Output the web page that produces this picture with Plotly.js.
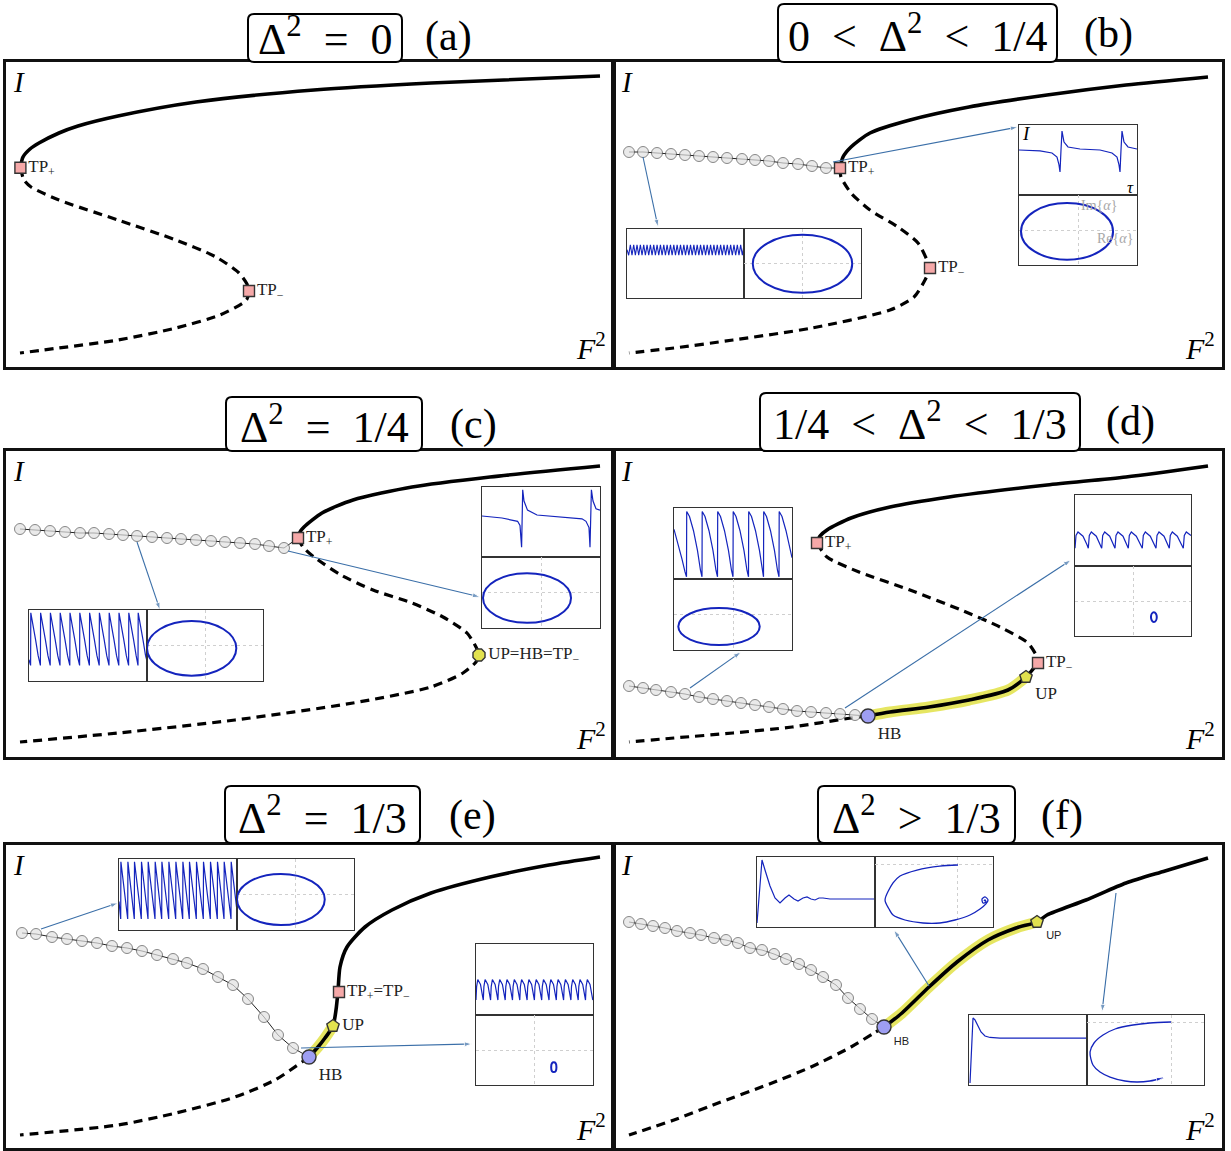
<!DOCTYPE html>
<html><head><meta charset="utf-8">
<script src="https://cdn.plot.ly/plotly-3.0.1.min.js"></script>
<style>body{margin:0;background:#fff}#chart{width:1231px;height:1151px}</style>
</head><body><div id="chart"></div>
<script>
// ================= DATA (panel units: F^2 across, I up; insets in their own units) =================
const panelTitles = ['Δ<sup>2</sup>\u2002=\u20020', '0\u2002&lt;\u2002Δ<sup>2</sup>\u2002&lt;\u20021/4', 'Δ<sup>2</sup>\u2002=\u20021/4',
  '1/4\u2002&lt;\u2002Δ<sup>2</sup>\u2002&lt;\u20021/3', 'Δ<sup>2</sup>\u2002=\u20021/3', 'Δ<sup>2</sup>\u2002&gt;\u20021/3'];
const panelLetters = ['(a)', '(b)', '(c)', '(d)', '(e)', '(f)'];

// (a)
const aUpperX = [1.44,1.7,2.4,3.3,5.3,7.2,11.2,19.0,30.8,42.5,59.4];
const aUpperY = [19.93,21.0,21.8,22.4,23.4,24.1,25.1,26.5,27.7,28.4,29.1];
const aDashX = [1.44,1.8,2.5,5.3,11.2,17.0,21.0,23.3,24.1,24.3,24.1,23.7,21.4,17.0,11.2,5.3,1.4];
const aDashY = [19.93,18.7,18.0,16.7,14.7,12.7,11.0,9.4,8.3,7.6,6.8,6.4,5.2,3.9,2.7,1.9,1.4];
const aTPX = [1.44,24.3], aTPY = [19.93,7.6];

// (b)
const bUpperX = [22.6,22.9,23.7,25.6,29.6,35.5,43.3,51.2,59.4];
const bUpperY = [19.9,21.0,22.0,23.4,24.7,26.0,27.2,28.2,29.0];
const bDashX = [22.6,22.7,23.7,25.6,28.4,30.4,31.3,31.6,31.1,30.0,27.6,19.8,11.9,6.0,1.5];
const bDashY = [19.9,19.0,17.4,15.7,14.0,12.4,10.7,9.9,8.7,7.0,5.7,3.9,2.7,1.9,1.4];
const bCircX = [1.5,2.9,4.3,5.7,7.1,8.5,9.9,11.3,12.8,14.1,15.5,16.9,18.4,19.8,21.2];
const bCircY = [21.5,21.5,21.4,21.3,21.2,21.1,21.0,20.9,20.8,20.7,20.6,20.4,20.3,20.1,19.9];
const bTPX = [22.6,31.6], bTPY = [19.9,9.9];
const bArrowTailX = [2.9,21.9], bArrowTailY = [21.0,20.5], bArrowHeadX = [4.4,40.4], bArrowHeadY = [14.0,24.0];
const bLeftTimeV = [0.70,0.62,0.77,0.62,0.77,0.62,0.77,0.62,0.77,0.62,0.77,0.62,0.77,0.62,0.77,0.62,0.77,0.62,0.77,0.62,0.77,
  0.62,0.77,0.62,0.77,0.62,0.77,0.62,0.77,0.62,0.77,0.62,0.77,0.62,0.77,0.62,0.77,0.62,0.77,0.62,0.77,
  0.62,0.77,0.62,0.77,0.62,0.77,0.62,0.77,0.62,0.77,0.62,0.77,0.62,0.77,0.62,0.77,0.62,0.77,0.62,0.77,
  0.62,0.77,0.62,0.77,0.62,0.77,0.62,0.77,0.62,0.77];
const bRightTimeT = [0,21,33,38,40,41,42,43,45,49,61,81,93,98,100,101,102,103,105,109,118];
const bRightTimeV = [0.643,0.629,0.60,0.543,0.43,0.33,0.643,0.914,0.757,0.686,0.657,0.643,0.60,0.543,0.43,0.33,0.643,0.914,0.757,0.686,0.657];

// (c)
const cUpperX = [29.2,29.4,29.8,31.6,34.7,40.6,48.4,59.4];
const cUpperY = [21.9,22.5,23.0,24.4,25.7,27.0,28.0,29.1];
const cDashX = [29.2,29.7,30.8,33.5,36.7,40.6,43.7,46.1,47.0,47.3,47.0,45.7,42.5,34.7,22.9,11.2,1.4];
const cDashY = [21.9,21.0,20.0,18.2,16.7,15.4,14.0,12.4,11.0,10.2,9.5,8.4,7.0,5.4,3.7,2.4,1.5];
const cCircX = [1.4,2.9,4.4,5.9,7.4,8.8,10.3,11.7,13.1,14.6,16.1,17.5,19.0,20.5,21.9,23.4,24.9,26.3,27.8];
const cCircY = [22.8,22.7,22.6,22.5,22.4,22.4,22.3,22.2,22.1,22.0,21.9,21.8,21.7,21.6,21.5,21.4,21.3,21.1,20.9];
const cTPX = [29.2], cTPY = [21.9];
const cUPX = [47.3], cUPY = [10.2];
const cArrowTailX = [13.1,28.2], cArrowTailY = [21.5,20.6], cArrowHeadX = [15.4,47.4], cArrowHeadY = [14.7,16.0];
const cLeftTimeT = [0,1.6,1.8,4.1,6.6,9.1,11.4,11.6,13.9,16.4,18.9,21.2,21.4,23.7,26.2,28.7,31,31.2,33.5,36,38.5,
  40.8,41,43.3,45.8,48.3,50.6,50.8,53.1,55.6,58.1,60.4,60.6,62.9,65.4,67.9,70.2,70.4,72.7,75.2,77.7,
  80,80.2,82.5,85,87.5,89.8,90,92.3,94.8,97.3,99.6,99.8,102.1,104.6,107.1,109,109.2,111.5,114,116.5,118];
const cLeftTimeV = [0.3,0.22,0.96,0.8,0.58,0.36,0.22,0.96,0.8,0.58,0.36,0.22,0.96,0.8,0.58,0.36,0.22,0.96,0.8,0.58,0.36,
  0.22,0.96,0.8,0.58,0.36,0.22,0.96,0.8,0.58,0.36,0.22,0.96,0.8,0.58,0.36,0.22,0.96,0.8,0.58,0.36,
  0.22,0.96,0.8,0.58,0.36,0.22,0.96,0.8,0.58,0.36,0.22,0.96,0.8,0.58,0.36,0.22,0.96,0.8,0.58,0.36,0.28];
const cRightTimeT = [0,20,35.6,38,39.6,40.2,40.7,42,45.5,55,70,86.6,100,104,107,108,108.8,109.4,111,114,118];
const cRightTimeV = [0.586,0.557,0.51,0.45,0.14,0.5,0.96,0.8,0.67,0.6,0.58,0.567,0.545,0.51,0.42,0.14,0.5,0.96,0.8,0.69,0.67];

// (d)
const dUpperX = [20.3,20.6,21.3,23.7,27.6,33.5,43.3,51.2,59.4];
const dUpperY = [21.4,22.1,22.7,23.9,25.0,26.0,27.2,28.0,29.1];
const dDashX = [20.3,21.3,24.5,29.6,34.7,38.6,41.4,42.3,42.4];
const dDashY = [21.4,20.0,18.5,16.7,14.7,13.0,11.4,10.0,9.4];
const dSolidX = [42.4,41.2,39.4,35.5,31.5,27.6,25.4];
const dSolidY = [9.4,8.0,6.7,5.7,5.0,4.5,4.1];
const dHighX = [41.2,39.4,35.5,31.5,27.6,25.4];
const dHighY = [8.0,6.7,5.7,5.0,4.5,4.1];
const dLowX = [25.4,23.7,17.8,11.9,6.0,1.5];
const dLowY = [4.1,3.9,3.0,2.4,1.9,1.5];
const dCircX = [1.5,2.9,4.2,5.7,7.1,8.5,9.9,11.3,12.7,14.1,15.5,16.9,18.3,19.7,21.2,22.6,24.1];
const dCircY = [7.1,6.9,6.7,6.5,6.3,6.0,5.8,5.6,5.4,5.2,5.0,4.8,4.6,4.5,4.4,4.3,4.2];
const dTPX = [20.3,42.4], dTPY = [21.4,9.4];
const dUPX = [41.2], dUPY = [8.0], dHBX = [25.4], dHBY = [4.1];
const dArrowTailX = [7.6,23.1], dArrowTailY = [6.9,4.9], dArrowHeadX = [12.7,45.7], dArrowHeadY = [10.5,19.7];
const dLeftTimeT = [0,4,8,11,12.5,12.7,15.5,19.5,23.5,26.5,28,28.2,31,35,39,42,43.5,43.7,46.5,50.5,54.5,57.5,
  59,59.2,62,66,70,73,74.5,74.7,77.5,81.5,85.5,88.5,89.5,89.7,92.5,96.5,100.5,103.5,105,105.2,108,112,116,118];
const dLeftTimeV = [0.7,0.5,0.28,0.1,0.03,0.95,0.88,0.68,0.4,0.12,0.03,0.95,0.88,0.68,0.4,0.12,0.03,0.95,0.88,0.68,0.4,0.12,
  0.03,0.95,0.88,0.68,0.4,0.12,0.03,0.95,0.88,0.68,0.4,0.12,0.03,0.95,0.88,0.68,0.4,0.12,0.03,0.95,0.88,0.68,0.4,0.3];
const dRightTimeT = [0,1,3,8,12,13.3,14.3,16.3,21.3,25.3,26.7,27.7,29.7,34.7,38.7,40,41,43,48,52,53.3,54.3,56.3,61.3,65.3,
  67.3,68.3,70.3,75.3,79.3,81,82,84,89,93,94.3,95.3,97.3,102.3,106.3,108.3,109.3,111.3,116];
const dRightTimeV = [0.25,0.43,0.48,0.42,0.3,0.25,0.43,0.48,0.42,0.3,0.25,0.43,0.48,0.42,0.3,0.25,0.43,0.48,0.42,0.3,
  0.25,0.43,0.48,0.42,0.3,0.25,0.43,0.48,0.42,0.3,0.25,0.43,0.48,0.42,0.3,0.25,0.43,0.48,0.42,0.3,0.25,0.43,0.48,0.43];

// (e)
const eSolidX = [30.3,31.2,31.9,32.7,33.0,33.2,33.4,34.1,35.9,38.6,42.5,48.4,54.3,59.4];
const eSolidY = [9.1,10.1,11.0,12.2,13.8,15.7,18.1,20.1,22.1,23.8,25.5,27.1,28.3,29.1];
const eHighX = [30.3,31.2,31.9,32.7], eHighY = [9.1,10.1,11.0,12.2];
const eDashX = [30.3,29.6,26.9,22.9,17.0,11.2,1.4], eDashY = [9.1,8.6,6.8,5.1,3.5,2.3,1.3];
const eCircX = [1.6,3.0,4.6,6.1,7.6,9.1,10.6,12.1,13.6,15.1,16.7,18.1,19.7,21.2,22.7,24.2,25.8,27.2,28.7];
const eCircY = [21.5,21.4,21.1,20.9,20.7,20.5,20.2,20.0,19.7,19.3,18.9,18.5,17.9,17.1,16.3,14.9,13.1,11.3,10.0];
const eTPX = [33.3], eTPY = [15.6], eUPX = [32.7], eUPY = [12.2], eHBX = [30.3], eHBY = [9.1];
const eArrowTailX = [3.5,29.5], eArrowTailY = [21.9,10.0], eArrowHeadX = [11.2,46.6], eArrowHeadY = [24.5,10.4];
const eLeftTimeT = [0,1.7,1.9,8.7,8.9,15.3,15.5,22.3,22.5,29,29.2,36,36.2,42.7,42.9,49.7,49.9,56.7,56.9,63.7,63.9,
  70.3,70.5,77.3,77.5,84.3,84.5,91.3,91.5,98.3,98.5,105,105.2,112,112.2,118];
const eLeftTimeV = [0.4,0.155,0.96,0.155,0.96,0.155,0.96,0.155,0.96,0.155,0.96,0.155,0.96,0.155,0.96,0.155,0.96,0.155,0.96,
  0.155,0.96,0.155,0.96,0.155,0.96,0.155,0.96,0.155,0.96,0.155,0.96,0.155,0.96,0.155,0.96,0.27];
const eRightTimeT = [0,0.6,1.8,4.5,6.5,7.3,7.9,9.1,11.8,13.8,14.6,15.2,16.4,19.1,21.1,21.9,22.5,23.7,26.4,28.4,
  29.2,29.8,31,33.7,35.7,36.5,37.1,38.3,41,43,43.8,44.4,45.6,48.3,50.3,51.1,51.7,52.9,55.6,57.6,
  58.4,59,60.2,62.9,64.9,65.7,66.3,67.5,70.2,72.2,73,73.6,74.8,77.5,79.5,80.3,80.9,82.1,84.8,86.8,
  87.6,88.2,89.4,92.1,94.1,94.9,95.5,96.7,99.4,101.4,102.2,102.8,104,106.7,108.7,109.5,110.1,111.3,114,116,116.8];
const eRightTimeV = [0.21,0.4,0.5,0.43,0.27,0.21,0.4,0.5,0.43,0.27,0.21,0.4,0.5,0.43,0.27,0.21,0.4,0.5,0.43,0.27,
  0.21,0.4,0.5,0.43,0.27,0.21,0.4,0.5,0.43,0.27,0.21,0.4,0.5,0.43,0.27,0.21,0.4,0.5,0.43,0.27,
  0.21,0.4,0.5,0.43,0.27,0.21,0.4,0.5,0.43,0.27,0.21,0.4,0.5,0.43,0.27,0.21,0.4,0.5,0.43,0.27,
  0.21,0.4,0.5,0.43,0.27,0.21,0.4,0.5,0.43,0.27,0.21,0.4,0.5,0.43,0.27,0.21,0.4,0.5,0.43,0.27,0.21];

// (f)
const fSolidX = [27.0,28.8,31.5,34.3,37.4,40.2,42.3,43.3,47.2,51.2,55.1,59.4];
const fSolidY = [12.1,13.5,16.1,18.6,20.8,22.0,22.6,23.3,24.8,26.5,27.7,29.0];
const fHighX = [27.0,28.8,31.5,34.3,37.4,40.2,42.3], fHighY = [12.1,13.5,16.1,18.6,20.8,22.0,22.6];
const fDashX = [27.0,26.0,23.7,19.7,15.8,9.9,6.0,1.5], fDashY = [12.1,11.5,10.1,8.1,6.5,4.3,2.8,1.3];
const fCircX = [1.5,2.7,3.9,5.1,6.3,7.6,8.7,10.0,11.2,12.4,13.6,14.8,16.0,17.2,18.5,19.7,20.9,22.2,23.4,24.6,25.8];
const fCircY = [22.6,22.4,22.2,22.0,21.7,21.5,21.3,21.0,20.8,20.5,20.0,19.8,19.4,18.9,18.4,17.8,17.1,16.3,15.0,13.9,12.9];
const fUPX = [42.3], fUPY = [22.6], fHBX = [27.0], fHBY = [12.1];
const fArrowTailX = [31.5,50.2], fArrowTailY = [16.2,25.5], fArrowHeadX = [28.0,48.8], fArrowHeadY = [21.8,13.6];
const fUpperTimeT = [0,2,5,8,13,18,23,28,32,37,41,46,50,54,58,62,66,73,118];
const fUpperTimeV = [0.057,0.386,0.957,0.814,0.586,0.414,0.343,0.414,0.457,0.4,0.371,0.414,0.429,0.4,0.386,0.414,0.414,0.4,0.4];
const fUpperPhaseRe = [0.703,0.55,0.356,0.212,0.153,0.085,0.119,0.153,0.254,0.407,0.55,0.678,0.805,0.89,0.94,0.958,0.932,0.907,0.915,0.94,0.932,0.924];
const fUpperPhaseIm = [0.886,0.871,0.814,0.729,0.629,0.386,0.257,0.171,0.1,0.057,0.057,0.1,0.171,0.257,0.33,0.386,0.429,0.4,0.343,0.357,0.386,0.37];
const fLowerTimeT = [1,3,4,6,9,12,16,21,31,118];
const fLowerTimeV = [0.029,0.64,0.957,0.93,0.843,0.757,0.7,0.679,0.671,0.671];
const fLowerPhaseRe = [0.718,0.538,0.393,0.24,0.137,0.06,0.026,0.051,0.111,0.197,0.325,0.427,0.538,0.65];
const fLowerPhaseIm = [0.9,0.886,0.857,0.8,0.714,0.6,0.471,0.286,0.186,0.114,0.057,0.043,0.057,0.1];

// Phase-plane orbits (closed loops): centre Re, centre Im, half-width, half-height (axes span -1..1)
const orbitCx = {bL:0, bR:-0.186, cL:-0.23, cR:-0.237, dL:-0.237, dR:0.36, eU:-0.25, eR:0.33};
const orbitCy = {bL:-0.01, bR:-0.04, cL:-0.08, cR:-0.155, dL:-0.34, dR:-0.46, eU:-0.14, eR:-0.49};
const orbitRx = {bL:0.85, bR:0.78, cL:0.77, cR:0.746, dL:0.69, dR:0.05, eU:0.75, eR:0.045};
const orbitRy = {bL:0.84, bR:0.81, cL:0.77, cR:0.70, dL:0.52, dR:0.14, eU:0.72, eR:0.14};

// ================= LAYOUT / DRAWING =================
const W = 1231, H = 1151;
const fx = p => p / W, fy = p => 1 - p / H;
const SERIF = 'Liberation Serif, Times New Roman, serif';
const SANS = 'Liberation Sans, Arial, sans-serif';
const BLUE = '#1424bd';
const ARROW = '#3b6fa8';
const layout = {width: W, height: H, margin: {l:0, r:0, t:0, b:0}, paper_bgcolor: '#fff', plot_bgcolor: 'rgba(0,0,0,0)',
  showlegend: false, annotations: [], shapes: [], hovermode: false};
const traces = [];
let nAx = 0;
function addAxes(x0, x1, y0, y1, rx, ry, lc, lw, gx, gy) {
  nAx++;
  const s = nAx === 1 ? '' : String(nAx);
  const base = {showgrid:false, zeroline:false, showticklabels:false, ticks:'', showline:true, mirror:true,
    linecolor:lc, linewidth:lw, fixedrange:true};
  const xa = Object.assign({}, base, {domain:[fx(x0), fx(x1)], range:rx, anchor:'y'+s});
  const ya = Object.assign({}, base, {domain:[fy(y1), fy(y0)], range:ry, anchor:'x'+s});
  if (gx) Object.assign(xa, {showgrid:true, tickvals:gx, gridcolor:'#cfcfcf', griddash:'dot', gridwidth:1});
  if (gy) Object.assign(ya, {showgrid:true, tickvals:gy, gridcolor:'#cfcfcf', griddash:'dot', gridwidth:1});
  layout['xaxis'+s] = xa; layout['yaxis'+s] = ya;
  return s;
}
function line(s, x, y, width, color, dash, shape) {
  traces.push({type:'scatter', mode:'lines', x, y, xaxis:'x'+s, yaxis:'y'+s, hoverinfo:'skip',
    line:{color, width, dash:dash||'solid', shape:shape||'spline', smoothing:0.7}});
}
function solid(s, x, y) { line(s, x, y, 3.6, '#000'); }
function dashed(s, x, y) { line(s, x, y, 3.2, '#000', '9px,6px'); }
function highlight(s, x, y) { line(s, x, y, 11, 'rgba(226,226,70,0.85)'); }
function circles(s, x, y, endX, endY) {
  const xs = x.concat(endX), ys = y.concat(endY);
  const sz = x.map(() => 11).concat([0]);
  traces.push({type:'scatter', mode:'lines+markers', x:xs, y:ys, xaxis:'x'+s, yaxis:'y'+s, hoverinfo:'skip',
    line:{color:'#222', width:1}, marker:{size:sz, color:'#e2e2e2', line:{color:'#555', width:1}}});
}
function marks(s, x, y, symbol, color, size, text, pos, font) {
  traces.push({type:'scatter', mode:'markers+text', x, y, xaxis:'x'+s, yaxis:'y'+s, hoverinfo:'skip', cliponaxis:false,
    marker:{symbol, size, color, line:{color:'#333', width:1.4}}, text, textposition:pos,
    textfont:font || {family:SERIF, size:17, color:'#222'}});
}
function arrows(s, tx, ty, hx, hy) {
  for (let i = 0; i < tx.length; i++) {
    traces.push({type:'scatter', mode:'lines+markers', x:[tx[i], hx[i]], y:[ty[i], hy[i]], xaxis:'x'+s, yaxis:'y'+s,
      hoverinfo:'skip', cliponaxis:false, line:{color:ARROW, width:1.1},
      marker:{symbol:'arrow', angleref:'previous', size:[0, 8], color:ARROW}});
  }
}
function timeInset(x0, x1, y0, y1, t, v, rangeT, width) {
  const s = addAxes(x0, x1, y0, y1, rangeT, [0, 1], '#333', 1.3);
  const tr = {type:'scatter', mode:'lines', y:v, xaxis:'x'+s, yaxis:'y'+s, hoverinfo:'skip',
    line:{color:BLUE, width:width||1.2, shape:'linear'}};
  if (t) tr.x = t;
  traces.push(tr);
  return s;
}
function orbitInset(x0, x1, y0, y1, key) {
  const s = addAxes(x0, x1, y0, y1, [-1, 1], [-1, 1], '#333', 1.3, [0], [0]);
  layout.shapes.push({type:'circle', xref:'x'+s, yref:'y'+s, layer:'above',
    x0:orbitCx[key]-orbitRx[key], x1:orbitCx[key]+orbitRx[key], y0:orbitCy[key]-orbitRy[key], y1:orbitCy[key]+orbitRy[key],
    line:{color:BLUE, width:2}});
  return s;
}
function text(px, py, t, size, family, color, xa, ya) {
  layout.annotations.push({xref:'paper', yref:'paper', x:fx(px), y:fy(py), text:t, showarrow:false,
    xanchor:xa||'center', yanchor:ya||'middle', font:{family, size, color:color||'#000'}});
}
function roundBox(x0, x1, y0, y1, r) {
  const X = p => fx(p).toFixed(5), Y = p => fy(p).toFixed(5);
  const path = `M ${X(x0+r)},${Y(y0)} L ${X(x1-r)},${Y(y0)} Q ${X(x1)},${Y(y0)} ${X(x1)},${Y(y0+r)} ` +
    `L ${X(x1)},${Y(y1-r)} Q ${X(x1)},${Y(y1)} ${X(x1-r)},${Y(y1)} L ${X(x0+r)},${Y(y1)} ` +
    `Q ${X(x0)},${Y(y1)} ${X(x0)},${Y(y1-r)} L ${X(x0)},${Y(y0+r)} Q ${X(x0)},${Y(y0)} ${X(x0+r)},${Y(y0)} Z`;
  layout.shapes.push({type:'path', xref:'paper', yref:'paper', path, fillcolor:'#fff', line:{color:'#000', width:2}, layer:'above'});
}

// Main panel boxes [left, right, top, bottom] in px, plus title placement
const boxes = [[6,613,62,367],[614,1222,62,367],[6,613,451,757],[614,1222,451,757],[6,613,845,1148],[614,1222,845,1148]];
const titleBox = [[248,402,14,62],[778,1057,4,62],[226,422,397,451],[760,1080,393,451],[225,420,786,843],[818,1015,786,843]];
const titleCy = [37, 34, 424, 422, 815, 815];
const letterCx = [448, 1108, 473, 1130, 472, 1062];
const ids = boxes.map(b => addAxes(b[0], b[1], b[2], b[3], [0, (b[1]-b[0])/10], [0, (b[3]-b[2])/10], '#111', 3));

boxes.forEach((b, i) => {
  const tb = titleBox[i];
  roundBox(tb[0], tb[1], tb[2], tb[3], 6);
  text((tb[0]+tb[1])/2, titleCy[i], panelTitles[i], 44, SERIF);
  text(letterCx[i], titleCy[i], panelLetters[i], 42, SERIF);
  text(b[0]+13, b[2]+20, '<i>I</i>', 29, SERIF);
  text(b[1]-22, b[3]-21, '<i>F</i><sup>2</sup>', 30, SERIF);
});

const TPc = '#f5a8a8', UPc = '#e2e24e', HBc = '#9e9ef2';
const TPP = 'TP<sub>+</sub>', TPM = 'TP<sub>−</sub>';

// (a)
dashed(ids[0], aDashX, aDashY);
solid(ids[0], aUpperX, aUpperY);
marks(ids[0], aTPX, aTPY, 'square', TPc, 11, [TPP, TPM], ['middle right','middle right']);

// (b)
dashed(ids[1], bDashX, bDashY);
solid(ids[1], bUpperX, bUpperY);
circles(ids[1], bCircX, bCircY, bTPX[0], bTPY[0]);
marks(ids[1], bTPX, bTPY, 'square', TPc, 11, [TPP, TPM], ['middle right','middle right']);
arrows(ids[1], bArrowTailX, bArrowTailY, bArrowHeadX, bArrowHeadY);
timeInset(627, 744, 229, 298, null, bLeftTimeV, [0, 70], 1.1);
orbitInset(744, 861, 229, 298, 'bL');
timeInset(1019, 1137, 125, 195, bRightTimeT, bRightTimeV, [0, 118]);
orbitInset(1019, 1137, 195, 265, 'bR');
text(1026, 134, '<i>I</i>', 19, SERIF);
text(1130, 187, '<i>τ</i>', 17, SERIF);
text(1099, 205, 'Im{<i>α</i>}', 14, SERIF, '#a8a8a8');
text(1115, 238, 'Re{<i>α</i>}', 14, SERIF, '#a8a8a8');

// (c)
dashed(ids[2], cDashX, cDashY);
solid(ids[2], cUpperX, cUpperY);
circles(ids[2], cCircX, cCircY, cTPX[0], cTPY[0]);
marks(ids[2], cTPX, cTPY, 'square', TPc, 11, [TPP], ['middle right']);
marks(ids[2], cUPX, cUPY, 'octagon', UPc, 13, ['UP=HB=' + TPM], ['middle right']);
arrows(ids[2], cArrowTailX, cArrowTailY, cArrowHeadX, cArrowHeadY);
timeInset(29, 147, 610, 681, cLeftTimeT, cLeftTimeV, [0, 118]);
orbitInset(147, 263, 610, 681, 'cL');
timeInset(482, 600, 487, 557, cRightTimeT, cRightTimeV, [0, 118]);
orbitInset(482, 600, 557, 628, 'cR');

// (d)
highlight(ids[3], dHighX, dHighY);
dashed(ids[3], dDashX, dDashY);
dashed(ids[3], dLowX, dLowY);
solid(ids[3], dUpperX, dUpperY);
solid(ids[3], dSolidX, dSolidY);
circles(ids[3], dCircX, dCircY, dHBX[0], dHBY[0]);
marks(ids[3], dTPX, dTPY, 'square', TPc, 11, [TPP, TPM], ['middle right','middle right']);
marks(ids[3], dUPX, dUPY, 'pentagon', UPc, 13, ['UP'], ['bottom right']);
marks(ids[3], dHBX, dHBY, 'circle', HBc, 14, ['HB'], ['bottom right']);
arrows(ids[3], dArrowTailX, dArrowTailY, dArrowHeadX, dArrowHeadY);
timeInset(674, 792, 508, 579, dLeftTimeT, dLeftTimeV, [0, 118]);
orbitInset(674, 792, 579, 650, 'dL');
timeInset(1075, 1191, 495, 566, dRightTimeT, dRightTimeV, [0, 116]);
orbitInset(1075, 1191, 566, 636, 'dR');

// (e)
highlight(ids[4], eHighX, eHighY);
dashed(ids[4], eDashX, eDashY);
solid(ids[4], eSolidX, eSolidY);
circles(ids[4], eCircX, eCircY, eHBX[0], eHBY[0]);
marks(ids[4], eTPX, eTPY, 'square', TPc, 11, [TPP + '=' + TPM], ['middle right']);
marks(ids[4], eUPX, eUPY, 'pentagon', UPc, 13, ['UP'], ['middle right']);
marks(ids[4], eHBX, eHBY, 'circle', HBc, 14, ['HB'], ['bottom right']);
arrows(ids[4], eArrowTailX, eArrowTailY, eArrowHeadX, eArrowHeadY);
timeInset(119, 237, 859, 930, eLeftTimeT, eLeftTimeV, [0, 118]);
orbitInset(237, 354, 859, 930, 'eU');
timeInset(476, 593, 944, 1015, eRightTimeT, eRightTimeV, [0, 117]);
orbitInset(476, 593, 1015, 1085, 'eR');

// (f)
highlight(ids[5], fHighX, fHighY);
dashed(ids[5], fDashX, fDashY);
solid(ids[5], fSolidX, fSolidY);
circles(ids[5], fCircX, fCircY, fHBX[0], fHBY[0]);
const sansLbl = {family:SANS, size:11, color:'#222'};
marks(ids[5], fUPX, fUPY, 'pentagon', UPc, 13, ['UP'], ['bottom right'], sansLbl);
marks(ids[5], fHBX, fHBY, 'circle', HBc, 14, ['HB'], ['bottom right'], sansLbl);
arrows(ids[5], fArrowTailX, fArrowTailY, fArrowHeadX, fArrowHeadY);
timeInset(757, 875, 857, 927, fUpperTimeT, fUpperTimeV, [0, 118]);
(function(){
  const s = addAxes(875, 993, 857, 927, [0, 1], [0, 1], '#333', 1.3, [0.703], [0.886]);
  traces.push({type:'scatter', mode:'lines', x:fUpperPhaseRe, y:fUpperPhaseIm, xaxis:'x'+s, yaxis:'y'+s, hoverinfo:'skip',
    line:{color:BLUE, width:1.3, shape:'spline', smoothing:0.8}});
})();
timeInset(969, 1087, 1015, 1085, fLowerTimeT, fLowerTimeV, [0, 118]);
(function(){
  const s = addAxes(1087, 1204, 1015, 1085, [0, 1], [0, 1], '#333', 1.3, [0.718], [0.9]);
  traces.push({type:'scatter', mode:'lines', x:fLowerPhaseRe, y:fLowerPhaseIm, xaxis:'x'+s, yaxis:'y'+s, hoverinfo:'skip',
    line:{color:BLUE, width:1.3, shape:'spline', smoothing:0.8}});
  const n = fLowerPhaseRe.length;
  traces.push({type:'scatter', mode:'markers', x:fLowerPhaseRe.slice(n-2), y:fLowerPhaseIm.slice(n-2), xaxis:'x'+s, yaxis:'y'+s,
    hoverinfo:'skip', marker:{symbol:'arrow', angleref:'previous', size:[0, 7], color:BLUE}});
})();

Plotly.newPlot('chart', traces, layout, {staticPlot:true});
</script>
</body></html>
